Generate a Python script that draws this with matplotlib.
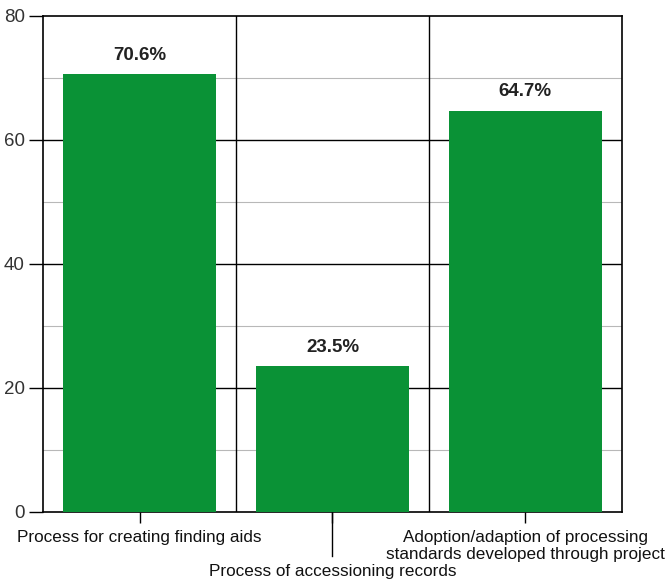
import numpy as np
import matplotlib
matplotlib.use('Agg')
import matplotlib.pyplot as plt
from matplotlib.transforms import blended_transform_factory

plt.rcParams['font.family'] = ['Liberation Sans', 'DejaVu Sans']

# survey results (percent of respondents)
categories = ['Process for creating finding aids',
              'Process of accessioning records',
              'Adoption/adaption of processing\nstandards developed through project']
values = [70.6, 23.5, 64.7]
yticks = [0, 20, 40, 60, 80]
yminor = [10, 30, 50, 70]

fig = plt.figure(figsize=(6.68, 5.81), dpi=100)
ax = fig.add_axes([0.0644, 0.1188, 0.8666, 0.8537])

x = np.arange(len(categories))
bars = ax.bar(x, values, width=0.79, color='#0a9236', zorder=3)

ax.set_xlim(-0.5, len(categories) - 0.5)
ax.set_ylim(0, 80)

# grid: black major lines, grey minor lines, black category dividers
for y in yticks[1:-1]:
    ax.axhline(y, color='black', lw=1.0, zorder=1)
for y in yminor:
    ax.axhline(y, color='#b8b8b8', lw=0.8, zorder=1)
for xb in x[:-1] + 0.5:
    ax.axvline(xb, color='black', lw=1.0, zorder=1)

for s in ax.spines.values():
    s.set_linewidth(1.2)
    s.set_color('black')

ax.set_yticks(yticks)
ax.tick_params(axis='y', direction='out', length=10, width=1.0,
               labelsize=13.5, labelcolor='#333333', pad=3)
ax.set_xticks(x)
# middle label is staggered below the others, drawn separately
labels = [c if i != 1 else '' for i, c in enumerate(categories)]
ax.set_xticklabels(labels, fontsize=12.3, color='#111111', linespacing=1.15)
ax.tick_params(axis='x', direction='out', length=8, width=1.0, pad=5)

trans = blended_transform_factory(ax.transData, ax.transAxes)
ax.plot([x[1], x[1]], [0, -0.088], color='black', lw=1.0,
        transform=trans, clip_on=False)
ax.text(x[1], -0.105, categories[1], transform=trans, ha='center', va='top',
        fontsize=12.3, color='#111111')

for b, v in zip(bars, values):
    ax.text(b.get_x() + b.get_width() / 2, v + 1.7, f'{v:.1f}%',
            ha='center', va='bottom', fontsize=13.5, fontweight='bold',
            color='#222222', zorder=4)

fig.savefig('out.png', dpi=100)
